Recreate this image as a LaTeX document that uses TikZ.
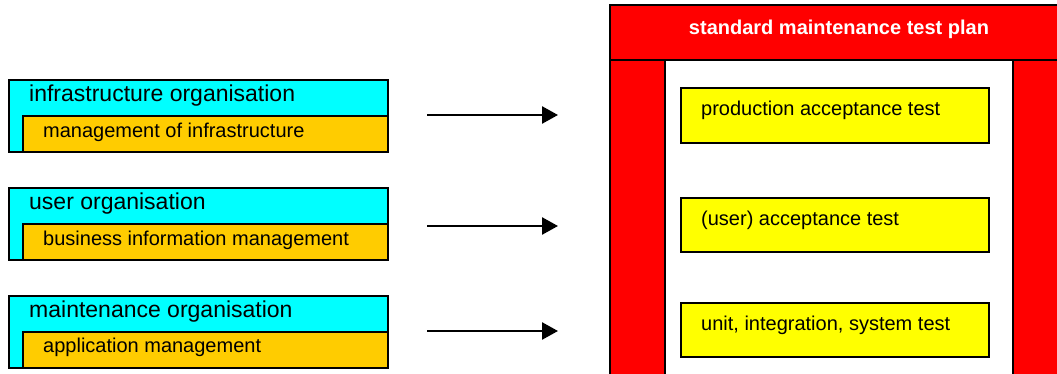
\documentclass[tikz,border=0pt]{standalone}
\usepackage{fontspec}
\setmainfont{Liberation Sans}
\usetikzlibrary{arrows.meta}
\definecolor{cyanbox}{RGB}{0,255,255}
\definecolor{orangebox}{RGB}{255,204,0}
\definecolor{redbox}{RGB}{255,0,0}
\definecolor{yellowbox}{RGB}{255,255,0}
\begin{document}
\begin{tikzpicture}[x=1pt,y=-1pt,
  orgbox/.style={draw=black,line width=1.3pt,fill=cyanbox},
  subbox/.style={draw=black,line width=1.3pt,fill=orangebox},
  framebox/.style={draw=black,line width=1.3pt,fill=redbox},
  testbox/.style={draw=black,line width=1.3pt,fill=yellowbox},
  lbl/.style={anchor=west,inner sep=0pt,font=\fontsize{23}{27}\selectfont},
  slbl/.style={anchor=west,inner sep=0pt,font=\fontsize{20}{24}\selectfont},
  arr/.style={-{Triangle[length=16pt,width=17pt]},line width=2.5pt}]
\useasboundingbox (0,0) rectangle (1057,374);
\begin{scope}
\clip (0,0) rectangle (1057,374);
% red frame
\draw[framebox] (610,60) rectangle (665,380);
\draw[framebox] (1013,60) rectangle (1070,380);
\draw[framebox] (610,5) rectangle (1070,60);
\end{scope}
\node[anchor=center,inner sep=0pt,text=white,font=\bfseries\fontsize{20}{24}\selectfont] (title) at (839,29) {standard maintenance test plan};
% yellow boxes
\draw[testbox] (681,88) rectangle (989,143);
\draw[testbox] (681,198) rectangle (989,252);
\draw[testbox] (681,303) rectangle (989,357);
\node[slbl] (t1) at (701,110) {production acceptance test};
\node[slbl] (t2) at (701,220) {(user) acceptance test};
\node[slbl] (t3) at (701,325) {unit, integration, system test};
% left boxes
\draw[orgbox] (9,80) rectangle (388,152);
\draw[subbox] (23,116) rectangle (388,152);
\node[lbl] (o1) at (29,96) {infrastructure organisation};
\node[slbl] (s1) at (43,132) {management of infrastructure};
\draw[orgbox] (9,188) rectangle (388,260);
\draw[subbox] (23,224) rectangle (388,260);
\node[lbl] (o2) at (29,204) {user organisation};
\node[slbl] (s2) at (43,240) {business information management};
\draw[orgbox] (9,296) rectangle (388,368);
\draw[subbox] (23,332) rectangle (388,368);
\node[lbl] (o3) at (29,312) {maintenance organisation};
\node[slbl] (s3) at (43,347) {application management};
% arrows
\coordinate (a1s) at (427,115); \coordinate (a1e) at (558,115);
\coordinate (a2s) at (427,226); \coordinate (a2e) at (558,226);
\coordinate (a3s) at (427,331); \coordinate (a3e) at (558,331);
\draw[arr] (a1s) -- (a1e);
\draw[arr] (a2s) -- (a2e);
\draw[arr] (a3s) -- (a3e);
\end{tikzpicture}
\end{document}
